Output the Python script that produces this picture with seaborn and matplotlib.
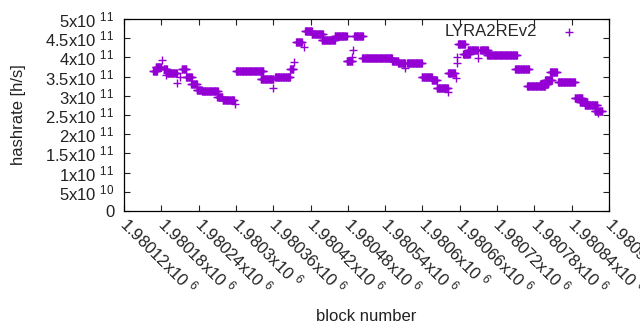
import numpy as np
import pandas as pd
import seaborn as sns
import matplotlib
matplotlib.use("Agg")
import matplotlib.pyplot as plt

# runs of blocks with the same hashrate estimate (first block, last block, value in h/s)
seg_start = [1980167, 1980171, 1980181, 1980184, 1980188, 1980189, 1980205, 1980210,
             1980213, 1980220, 1980228, 1980237, 1980245, 1980270, 1980279, 1980299,
             1980300, 1980340, 1980360, 1980363, 1980387, 1980393, 1980397, 1980409,
             1980411, 1980422, 1980438, 1980459, 1980478, 1980487, 1980488, 1980490,
             1980503, 1980551, 1980561, 1980572, 1980575, 1980599, 1980615, 1980623,
             1980641, 1980641, 1980654, 1980656, 1980656, 1980657, 1980665, 1980673,
             1980689, 1980693, 1980704, 1980749, 1980768, 1980789, 1980797, 1980805,
             1980818, 1980845, 1980853, 1980861, 1980877, 1980882]
seg_end = [1980173, 1980180, 1980181, 1980189, 1980188, 1980205, 1980205, 1980210,
           1980220, 1980229, 1980237, 1980245, 1980271, 1980278, 1980297, 1980299,
           1980344, 1980360, 1980360, 1980387, 1980392, 1980393, 1980406, 1980409,
           1980422, 1980440, 1980459, 1980478, 1980487, 1980487, 1980488, 1980504,
           1980551, 1980561, 1980572, 1980572, 1980599, 1980615, 1980623, 1980641,
           1980641, 1980652, 1980654, 1980656, 1980656, 1980668, 1980676, 1980689,
           1980689, 1980705, 1980752, 1980771, 1980797, 1980802, 1980808, 1980816,
           1980845, 1980857, 1980865, 1980881, 1980889, 1980882]
seg_value = [3.65e11, 3.75e11, 3.93e11, 3.70e11, 3.54e11, 3.60e11, 3.33e11, 3.49e11,
             3.70e11, 3.50e11, 3.30e11, 3.15e11, 3.12e11, 2.98e11, 2.90e11, 2.78e11,
             3.65e11, 3.45e11, 3.20e11, 3.50e11, 3.70e11, 3.88e11, 4.40e11, 4.27e11,
             4.70e11, 4.60e11, 4.45e11, 4.55e11, 3.90e11, 4.00e11, 4.20e11, 4.55e11,
             3.99e11, 3.90e11, 3.85e11, 3.72e11, 3.85e11, 3.50e11, 3.40e11, 3.20e11,
             3.10e11, 3.60e11, 3.47e11, 4.00e11, 3.85e11, 4.35e11, 4.10e11, 4.20e11,
             3.98e11, 4.20e11, 4.05e11, 3.70e11, 3.25e11, 3.30e11, 3.40e11, 3.62e11,
             3.37e11, 2.95e11, 2.85e11, 2.75e11, 2.60e11, 2.55e11]

x_ticks = [1980120, 1980180, 1980240, 1980300, 1980360, 1980420, 1980480,
           1980540, 1980600, 1980660, 1980720, 1980780, 1980840, 1980900]
x_ticklabels = ["1.98012x10 $^{6}$", "1.98018x10 $^{6}$", "1.98024x10 $^{6}$", "1.9803x10 $^{6}$",
                "1.98036x10 $^{6}$", "1.98042x10 $^{6}$", "1.98048x10 $^{6}$", "1.98054x10 $^{6}$",
                "1.9806x10 $^{6}$", "1.98066x10 $^{6}$", "1.98072x10 $^{6}$", "1.98078x10 $^{6}$",
                "1.98084x10 $^{6}$", "1.9809x10 $^{6}$"]
y_ticks = [0, 0.5e11, 1e11, 1.5e11, 2e11, 2.5e11, 3e11, 3.5e11, 4e11, 4.5e11, 5e11]
y_ticklabels = ["0", "5x10 $^{10}$", "1x10 $^{11}$", "1.5x10 $^{11}$", "2x10 $^{11}$",
                "2.5x10 $^{11}$", "3x10 $^{11}$", "3.5x10 $^{11}$", "4x10 $^{11}$",
                "4.5x10 $^{11}$", "5x10 $^{11}$"]

seg_start = np.array(seg_start)
seg_end = np.array(seg_end)
blocks = np.concatenate([np.arange(s, e + 1) for s, e in zip(seg_start, seg_end)])
rates = np.repeat(seg_value, seg_end - seg_start + 1)
df = pd.DataFrame({"block number": blocks, "hashrate [h/s]": rates})

sns.set_theme(style="ticks")
plt.rcParams["font.family"] = ["Liberation Sans", "DejaVu Sans"]
plt.rcParams["mathtext.default"] = "regular"
plt.rcParams["font.size"] = 12

fig = plt.figure(figsize=(6.4, 3.3), dpi=100)
ax = fig.add_axes([124 / 640, 1 - 211 / 330, 485 / 640, 192 / 330])

sns.scatterplot(data=df, x="block number", y="hashrate [h/s]", marker="+", s=34,
                color="#9400d3", linewidth=1.0, label="LYRA2REv2", ax=ax)

ax.set_xlim(1980120, 1980900)
ax.set_ylim(0, 5e11)
ax.set_xticks(x_ticks)
ax.set_xticklabels(x_ticklabels, rotation=-45, ha="left", va="center", rotation_mode="anchor")
ax.set_yticks(y_ticks)
ax.set_yticklabels(y_ticklabels)
ax.tick_params(direction="in", length=4.5, width=0.8, top=True, right=True,
               labelsize=12, colors="#222222")
ax.tick_params(axis="x", pad=7)
ax.tick_params(axis="y", pad=7)
for sp in ax.spines.values():
    sp.set_linewidth(0.9)
    sp.set_color("black")

ax.set_xlabel("block number", fontsize=12, color="#222222")
ax.set_ylabel("hashrate [h/s]", fontsize=12, color="#222222")
ax.xaxis.set_label_coords(0.5, -0.51)
ax.yaxis.set_label_coords(-0.203, 0.5)

ax.legend(loc="upper right", frameon=False, markerfirst=False, fontsize=12,
          handletextpad=0.9, borderaxespad=0.3, bbox_to_anchor=(0.975, 1.035))

fig.savefig("out.png", dpi=100)
